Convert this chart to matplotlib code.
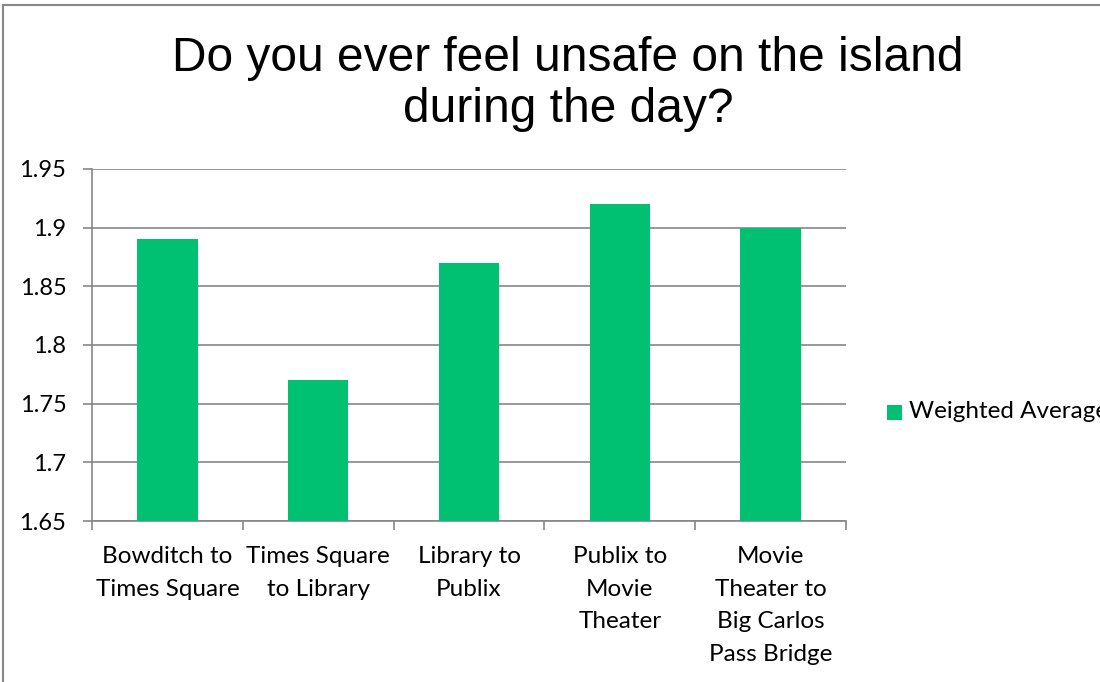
import matplotlib
matplotlib.use("Agg")
import matplotlib.pyplot as plt
from matplotlib.patches import Rectangle
from matplotlib.lines import Line2D

categories = ["Bowditch to\nTimes Square", "Times Square\nto Library", "Library to\nPublix",
              "Publix to\nMovie\nTheater", "Movie\nTheater to\nBig Carlos\nPass Bridge"]
values = [1.89, 1.77, 1.87, 1.92, 1.90]
yticks = [1.65, 1.7, 1.75, 1.8, 1.85, 1.9, 1.95]
ytick_labels = ["1.65", "1.7", "1.75", "1.8", "1.85", "1.9", "1.95"]
series_name = "Weighted Average"
title = "Do you ever feel unsafe on the island\nduring the day?"

bar_color = "#00C172"
grid_color = "#868686"
font_lbl = "Lato"

fig = plt.figure(figsize=(11, 6.82), dpi=100)
W, H = 1100, 682
ax = fig.add_axes([92 / W, 1 - 521 / H, 754 / W, 352 / H])

x = list(range(len(categories)))
ax.bar(x, values, width=0.4, color=bar_color, zorder=3)
ax.set_xlim(-0.5, len(categories) - 0.5)
ax.set_ylim(1.65, 1.95)
ax.set_yticks(yticks)
ax.set_yticklabels(ytick_labels, fontsize=17, family=font_lbl, color="black")
ax.set_xticks(x)
ax.set_xticklabels(categories, fontsize=17.5, family=font_lbl, color="black", linespacing=1.68)
ax.set_xticks([i - 0.5 for i in range(len(categories) + 1)], minor=True)
ax.tick_params(axis="x", which="major", length=0, pad=18)
ax.tick_params(axis="x", which="minor", length=6.5, color=grid_color, width=1.2)
ax.tick_params(axis="y", length=6.5, color=grid_color, width=1.2, pad=12)
ax.yaxis.grid(True, color=grid_color, linewidth=1.2, zorder=0)
ax.set_axisbelow(True)
for s in ["top", "right"]:
    ax.spines[s].set_visible(False)
for s in ["left", "bottom"]:
    ax.spines[s].set_color(grid_color)
    ax.spines[s].set_linewidth(1.2)

fig.text(568 / W, 1 - 84 / H, title, ha="center", va="center", fontsize=34.5,
         family="Liberation Sans", linespacing=1.18)

# legend
fig.patches.append(Rectangle((887 / W, 1 - 420 / H), 15 / W, 15 / H, transform=fig.transFigure,
                             facecolor=bar_color, edgecolor="none"))
fig.text(909 / W, 1 - 412 / H, series_name, ha="left", va="center", fontsize=17.5, family=font_lbl)

# chart border (top and left visible)
fig.add_artist(Line2D([3 / W, 3 / W], [0, 1 - 5 / H], transform=fig.transFigure, color="#888888", lw=1.5))
fig.add_artist(Line2D([3 / W, 1], [1 - 5 / H, 1 - 5 / H], transform=fig.transFigure, color="#888888", lw=1.5))

fig.savefig("out.png", dpi=100, facecolor="white")
